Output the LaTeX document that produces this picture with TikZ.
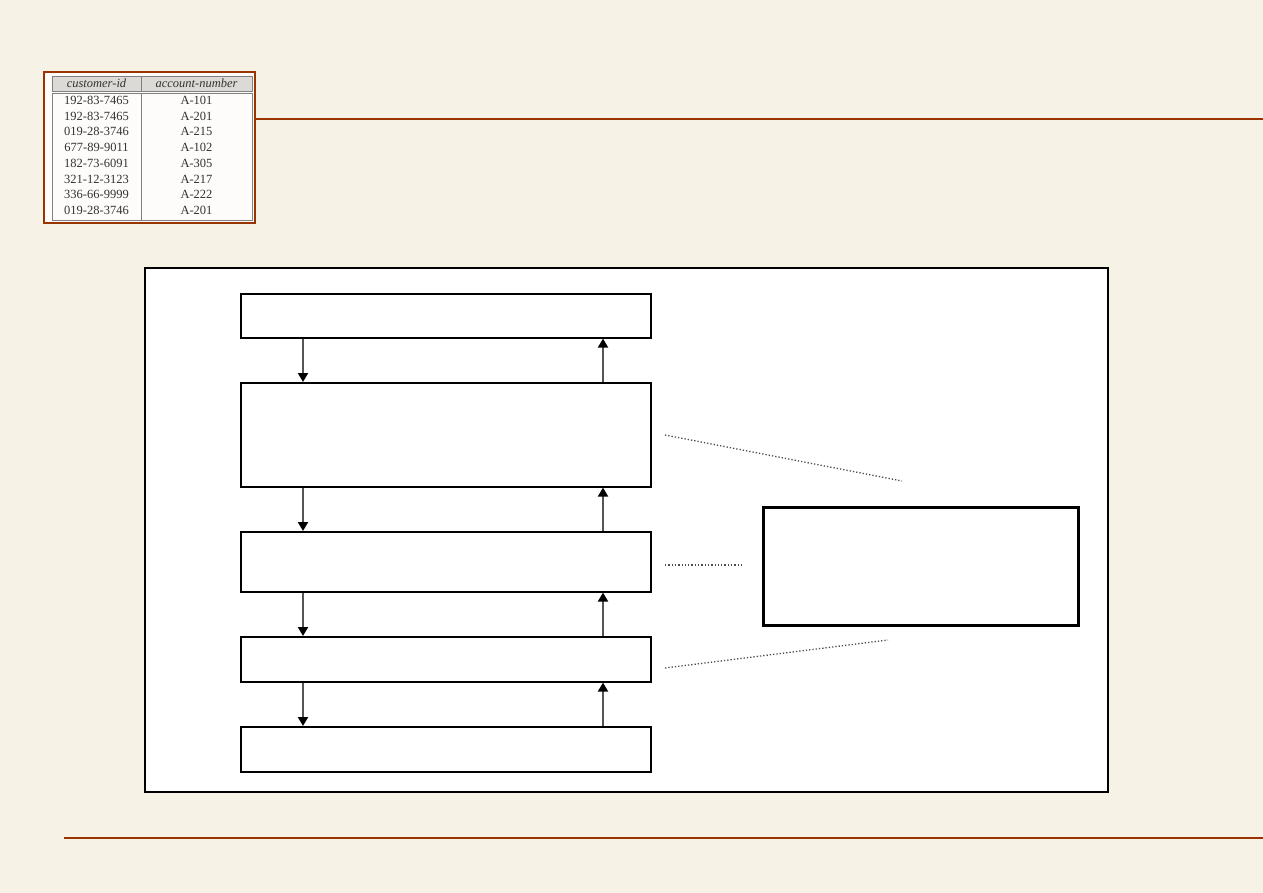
\documentclass[tikz,border=0pt]{standalone}
\usepackage{fontspec}
\setmainfont{Liberation Serif}
\usetikzlibrary{arrows.meta}
\definecolor{bgc}{HTML}{F7F2E6}
\definecolor{rust}{HTML}{993300}
\definecolor{hdr}{HTML}{DCDAD6}
\definecolor{tcell}{HTML}{FDFCFA}
\definecolor{tline}{HTML}{808080}
\definecolor{txt}{HTML}{333333}
\definecolor{arr}{HTML}{555555}
\tikzset{
  layer/.style={draw=black, line width=1.6pt, fill=white},
  flow/.style={draw=arr, line width=2pt, -{Triangle[length=9pt,width=10pt,color=black]}},
  link/.style={draw=black!70, line width=1.3pt, dotted},
  cell/.style={font=\fontsize{12.5}{14}\selectfont, text=txt, inner sep=0pt},
}
\begin{document}
\begin{tikzpicture}[x=1pt,y=-1pt]
\useasboundingbox (0,0) rectangle (1263,893);
\fill[bgc] (0,0) rectangle (1263,893);
% rules
\draw[rust, line width=1.4pt] (255,119) -- (1263,119);
\draw[rust, line width=2pt] (64,837.5) -- (1263,837.5);
% table
\draw[rust, line width=1.8pt, fill=tcell] (44,72) rectangle (255,223);
\draw[tline, fill=hdr, line width=0.9pt] (52,76) rectangle (252,91);
\draw[tline, line width=0.9pt] (52,93) rectangle (252,220);
\draw[tline, line width=0.9pt] (141,76) -- (141,91);
\draw[tline, line width=0.9pt] (141,93) -- (141,220);
\node[cell] (h1) at (96.5,83.5) {\itshape customer-id};
\node[cell] (h2) at (196.5,83.5) {\itshape account-number};
\foreach \c/\a [count=\i from 0] in {192-83-7465/A-101,192-83-7465/A-201,019-28-3746/A-215,677-89-9011/A-102,182-73-6091/A-305,321-12-3123/A-217,336-66-9999/A-222,019-28-3746/A-201}{
  \node[cell] (c\i) at (96.5,{100.5+15.7*\i}) {\c};
  \node[cell] (a\i) at (196.5,{100.5+15.7*\i}) {\a};
}
% frame
\draw[black, line width=1.6pt, fill=white] (145,268) rectangle (1108,792);
% layers
\node[layer, minimum width=410pt, minimum height=44pt, anchor=north west] (L1) at (240,293) {};
\node[layer, minimum width=410pt, minimum height=104pt, anchor=north west] (L2) at (240,382) {};
\node[layer, minimum width=410pt, minimum height=60pt, anchor=north west] (L3) at (240,531) {};
\node[layer, minimum width=410pt, minimum height=45pt, anchor=north west] (L4) at (240,636) {};
\node[layer, minimum width=410pt, minimum height=45pt, anchor=north west] (L5) at (240,726) {};
\node[draw=black, line width=3pt, fill=white, minimum width=315pt, minimum height=118pt, anchor=north west] (R) at (761.5,505.5) {};
% arrows
\foreach \a/\b in {L1/L2,L2/L3,L3/L4,L4/L5}{
  \draw[flow] (\a.south west -| 303,0) -- (\b.north west -| 303,0);
  \draw[flow] (\b.north west -| 603,0) -- (\a.south west -| 603,0);
}
% dotted links
\coordinate (p1) at (665,435);
\coordinate (q1) at (902,481);
\coordinate (p2) at (665,565);
\coordinate (q2) at (744,565);
\coordinate (p3) at (665,668);
\coordinate (q3) at (888,640);
\draw[link] (p1) -- (q1);
\draw[link] (p2) -- (q2);
\draw[link] (p3) -- (q3);
\end{tikzpicture}
\end{document}
